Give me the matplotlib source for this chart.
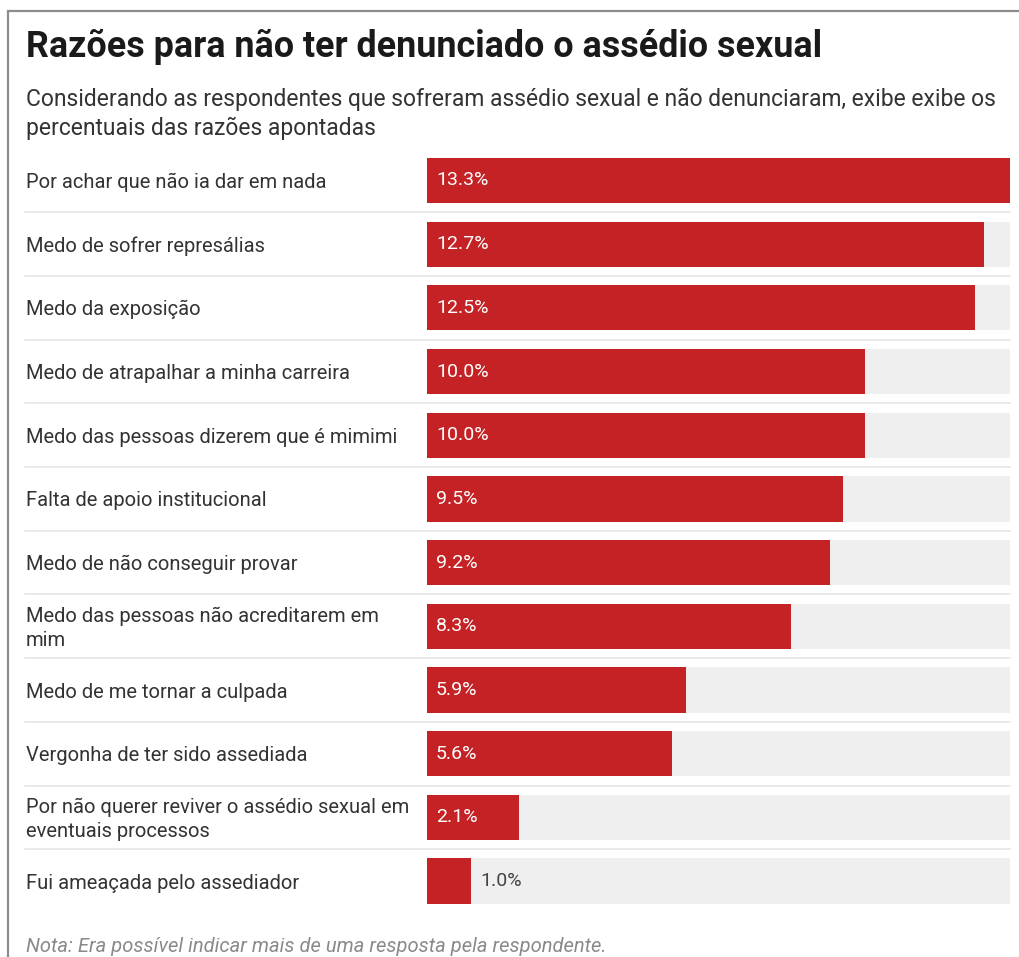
import matplotlib
matplotlib.use("Agg")
import matplotlib.pyplot as plt
from matplotlib.patches import Rectangle

plt.rcParams['font.family'] = ['Roboto', 'DejaVu Sans']

categories = [
    "Por achar que não ia dar em nada",
    "Medo de sofrer represálias",
    "Medo da exposição",
    "Medo de atrapalhar a minha carreira",
    "Medo das pessoas dizerem que é mimimi",
    "Falta de apoio institucional",
    "Medo de não conseguir provar",
    "Medo das pessoas não acreditarem em\nmim",
    "Medo de me tornar a culpada",
    "Vergonha de ter sido assediada",
    "Por não querer reviver o assédio sexual em\neventuais processos",
    "Fui ameaçada pelo assediador",
]
values = [13.3, 12.7, 12.5, 10.0, 10.0, 9.5, 9.2, 8.3, 5.9, 5.6, 2.1, 1.0]

RED = "#c42224"
BG = "#efefef"
W, H = 1020, 957

fig = plt.figure(figsize=(W / 100, H / 100), dpi=100)
fig.patch.set_facecolor("white")

# outer frame
fig.add_artist(Rectangle((8 / W, -0.1), 1.2, 1 - 11 / H + 0.1, transform=fig.transFigure,
                         fill=False, ec="#8c8c8c", lw=1.6))

fig.text(26 / W, 1 - 47 / H, "Razões para não ter denunciado o assédio sexual",
         fontsize=25.8, fontweight="bold", color="#1a1a1a", va="center", ha="left")
fig.text(26 / W, 1 - 114 / H,
         "Considerando as respondentes que sofreram assédio sexual e não denunciaram, exibe exibe os\n"
         "percentuais das razões apontadas",
         fontsize=16.5, color="#333333", va="center", ha="left", linespacing=1.3)

x0, x1 = 427, 1010
top, bot = 148.6, 912.9
ax = fig.add_axes([x0 / W, 1 - bot / H, (x1 - x0) / W, (bot - top) / H])
ax.set_xlim(0, max(values))
ax.set_ylim(len(values) - 0.5, -0.5)
ax.axis("off")

n = len(values)
ypos = list(range(n))
ax.barh(ypos, [max(values)] * n, height=0.71, color=BG, zorder=1)
ax.barh(ypos, values, height=0.71, color=RED, zorder=2)

lab_x = (26 - x0) / (x1 - x0)
for i, (c, v) in enumerate(zip(categories, values)):
    ax.annotate(c, (lab_x, i), xycoords=ax.get_yaxis_transform(), xytext=(0, -1.5),
                textcoords="offset points", ha="left", va="center",
                fontsize=14.5, color="#333333", linespacing=1.3)
    if v > 1.5:
        ax.annotate(f"{v:.1f}%", (0, i), xytext=(6.5, 0), textcoords="offset points",
                    ha="left", va="center", fontsize=14, color="white", zorder=3)
    else:
        ax.annotate(f"{v:.1f}%", (v, i), xytext=(7, 0), textcoords="offset points",
                    ha="left", va="center", fontsize=14, color="#444444", zorder=3)

for i in range(n - 1):
    ax.axhline(i + 0.5, xmin=(25 - x0) / (x1 - x0), xmax=1, color="#e6e6e6", lw=1.2,
               clip_on=False, zorder=0)

fig.text(26 / W, 1 - 946 / H, "Nota: Era possível indicar mais de uma resposta pela respondente.",
         fontsize=14.5, style="italic", color="#8a8a8a", va="center", ha="left")

fig.savefig("out.png", dpi=100)
